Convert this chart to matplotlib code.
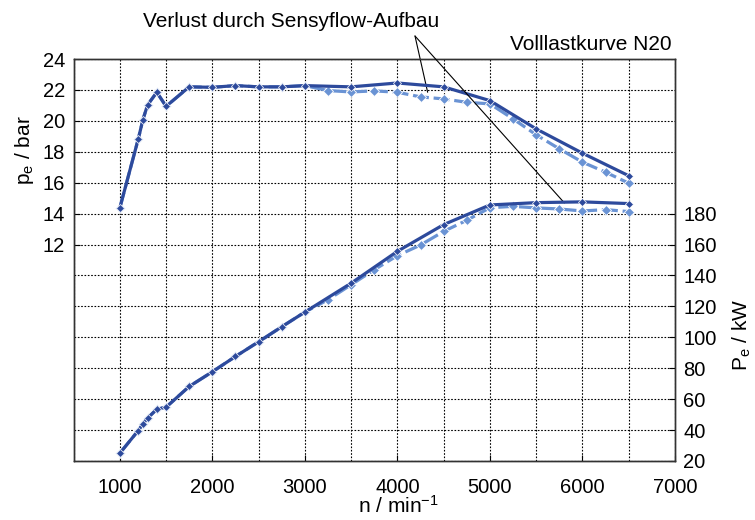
import numpy as np
import matplotlib.pyplot as plt
from matplotlib.ticker import MultipleLocator, FixedLocator

plt.rcParams['font.family'] = ['Liberation Sans', 'DejaVu Sans']
plt.rcParams['mathtext.default'] = 'regular'

# Volllast N20, Serienstand (dunkel) und mit Sensyflow (hell)
n_serie = [1000, 1200, 1250, 1300, 1400, 1500, 1750, 2000, 2250, 2500, 2750, 3000,
           3500, 4000, 4500, 5000, 5500, 6000, 6500]
pe_serie = [14.36, 18.84, 20.08, 21.03, 21.85, 20.94, 22.2, 22.17, 22.28, 22.2, 22.2, 22.28,
            22.2, 22.45, 22.2, 21.31, 19.48, 17.91, 16.45]
P_serie = [25.0, 39.7, 44.0, 47.7, 53.5, 54.8, 68.2, 77.7, 87.6, 97.1, 106.8, 116.3,
           135.0, 155.6, 172.9, 185.6, 187.1, 187.6, 186.5]

n_sensy = [1000, 1200, 1250, 1300, 1400, 1500, 1750, 2000, 2250, 2500, 2750, 3000,
           3250, 3500, 3750, 4000, 4250, 4500, 4750, 5000, 5250, 5500, 5750, 6000, 6250, 6500]
pe_sensy = [14.36, 18.84, 20.08, 21.03, 21.85, 20.94, 22.2, 22.17, 22.28, 22.2, 22.2, 22.28,
            21.96, 21.87, 21.94, 21.85, 21.55, 21.42, 21.2, 21.1, 20.13, 19.1, 18.19, 17.33, 16.68, 15.97]
P_sensy = [25.0, 39.7, 44.0, 47.7, 53.5, 54.8, 68.2, 77.7, 87.6, 97.1, 106.8, 116.3,
           124.3, 134.0, 143.7, 152.8, 159.7, 168.5, 175.7, 183.8, 184.7, 183.7, 183.0, 181.7, 182.6, 181.3]

dark = '#2d4a9c'
light = '#6a93d4'

fig = plt.figure(figsize=(7.55, 5.2), dpi=100)
ax = fig.add_axes([0.0974, 0.1135, 0.7966, 0.773])
ax2 = ax.twinx()

sty_serie = dict(color=dark, lw=2.3, marker='D', ms=4.5, mfc=dark, mec='white', mew=0.5, zorder=4)
sty_sensy = dict(color=light, lw=2.3, ls=(0, (5, 1.5)), marker='D', ms=5, mfc=light, mec='white',
                 mew=0.6, zorder=3)

ax.plot(n_sensy, pe_sensy, **sty_sensy)
ax.plot(n_serie, pe_serie, **sty_serie)
ax2.plot(n_sensy, P_sensy, **sty_sensy)
ax2.plot(n_serie, P_serie, **sty_serie)

ax.set_xlim(500, 7000)
ax.set_ylim(-2, 24)
ax2.set_ylim(20, 280)

ax.xaxis.set_major_locator(MultipleLocator(1000))
ax.xaxis.set_minor_locator(MultipleLocator(500))
ax.yaxis.set_major_locator(FixedLocator(np.arange(12, 25, 2)))
ax.yaxis.set_minor_locator(FixedLocator(np.arange(-2, 12, 2)))
ax2.yaxis.set_major_locator(FixedLocator(np.arange(20, 181, 20)))

ax.grid(True, which='both', color='black', ls=(0, (1.5, 1.5)), lw=0.8)
ax.tick_params(which='both', direction='in', labelsize=14.5, length=4)
ax.tick_params(axis='x', pad=12)
ax.tick_params(axis='y', pad=6)
ax.tick_params(which='minor', length=0)
ax2.tick_params(direction='in', labelsize=14.5, length=4, pad=6)

for a in (ax, ax2):
    for s in a.spines.values():
        s.set_linewidth(1.0)
        s.set_color('#333333')

ax.set_xlabel('n / min$^{-1}$', fontsize=15)
ax.xaxis.set_label_coords(0.54, -0.085)
ax.set_ylabel('p$_e$ / bar', fontsize=15)
ax.yaxis.set_label_coords(-0.062, 0.774)
ax2.set_ylabel('P$_e$ / kW', fontsize=15)
ax2.yaxis.set_label_coords(1.092, 0.313)

fig.text(672 / 755, 1 - 50 / 520, 'Volllastkurve N20', ha='right', va='baseline', fontsize=15)
fig.text(291 / 755, 1 - 27 / 520, 'Verlust durch Sensyflow-Aufbau', ha='center', va='baseline',
         fontsize=15)

apex = (415 / 755, 1 - 36 / 520)
ax.annotate('', xy=(4327, 21.85), xycoords='data', xytext=apex, textcoords='figure fraction',
            arrowprops=dict(arrowstyle='-', lw=0.8, color='black', shrinkA=0, shrinkB=0),
            annotation_clip=False)
ax2.annotate('', xy=(5805, 186.9), xycoords='data', xytext=apex, textcoords='figure fraction',
             arrowprops=dict(arrowstyle='-', lw=0.8, color='black', shrinkA=0, shrinkB=0),
             annotation_clip=False)

fig.savefig('out.png', dpi=100)
